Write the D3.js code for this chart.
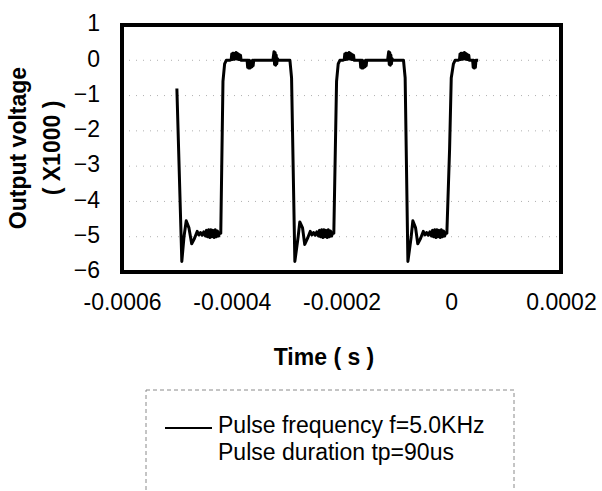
<!DOCTYPE html>
<meta charset="utf-8">
<html>
<head>
	<style>
		body { margin: 0; background: #fff; }
		svg text { font-family: "Liberation Sans", Arial, sans-serif; fill: #000; }
	</style>
	<script src="https://d3js.org/d3.v7.min.js"></script>
</head>
<body>
<div id="plot"></div>
<script>
	// -----Data (time in microseconds, voltage in X1000 V), one line per segment-----
	const time_us = [
		// cycle 1
		-500, -491, -487, -483, -478, -473, -468, -463,
		-460, -457, -454, -451, -448, -446, -444, -442, -440, -438, -436, -434, -432, -430, -428, -426, -424, -422,
		-420, -416, -413, -410,
		-404, -401, -400, -399, -398, -397, -396, -395, -394, -393, -392, -391, -390, -389, -388, -387, -386, -385, -384, -383, -378,
		-372, -371, -370, -369, -368, -367, -366, -365, -364, -363, -362, -361, -360, -340,
		-325, -323, -322, -321, -320, -319, -318, -317, -315, -294,
		-291, -285,
		// cycle 2
		-279, -276, -271, -267, -262, -257,
		-254, -251, -248, -245, -242, -240, -238, -236, -234, -232, -230, -228, -226, -224, -222, -220, -218, -216,
		-214, -209, -206, -203,
		-198, -195, -194, -193, -192, -191, -190, -189, -188, -187, -186, -185, -184, -183, -182, -181, -180, -179, -178, -177, -172,
		-166, -165, -164, -163, -162, -161, -160, -159, -158, -157, -156, -155, -154, -135,
		-116, -114, -113, -112, -111, -110, -109, -108, -106, -87,
		-84, -79,
		// cycle 3
		-73, -70, -65, -61, -56, -51,
		-48, -45, -42, -39, -36, -34, -32, -30, -28, -26, -24, -22, -20, -18, -16, -14, -12, -10,
		-8, -3, 0, 4, 7,
		12, 15, 16, 17, 18, 19, 20, 21, 22, 23, 24, 25, 26, 27, 28, 29, 30, 31, 32, 33, 37,
		39, 40, 41, 42, 43, 44, 45, 47, 49
	];
	const voltage = [
		// cycle 1
		-0.8, -5.7, -5.0, -4.55, -4.75, -5.2, -5.05, -4.85,
		-4.95, -4.88, -4.96, -4.86, -4.98, -4.82, -5.0, -4.8, -5.02, -4.8, -5.0, -4.82, -5.02, -4.8, -5.0, -4.84, -4.98, -4.88,
		-4.9, -0.6, -0.1, 0.0,
		0.0, 0.02, 0.18, 0.02, 0.2, 0.03, 0.2, 0.03, 0.2, 0.04, 0.22, 0.04, 0.2, 0.03, 0.18, 0.02, 0.16, 0.02, 0.14, 0.0, 0.0,
		0.0, -0.2, 0.0, -0.22, 0.0, -0.22, -0.02, -0.2, -0.02, -0.18, 0.0, -0.15, 0.0, 0.0,
		0.0, 0.24, -0.12, 0.22, -0.14, 0.15, -0.1, 0.05, 0.0, 0.0,
		-0.5, -5.7,
		// cycle 2
		-5.0, -4.58, -4.75, -5.22, -5.05, -4.85,
		-4.95, -4.88, -4.96, -4.86, -4.98, -4.82, -5.0, -4.8, -5.02, -4.8, -5.0, -4.82, -5.02, -4.8, -5.0, -4.84, -4.98, -4.88,
		-4.9, -0.6, -0.1, 0.0,
		0.0, 0.02, 0.18, 0.02, 0.2, 0.03, 0.2, 0.03, 0.2, 0.04, 0.22, 0.04, 0.2, 0.03, 0.18, 0.02, 0.16, 0.02, 0.14, 0.0, 0.0,
		0.0, -0.2, 0.0, -0.22, 0.0, -0.22, -0.02, -0.2, -0.02, -0.18, 0.0, -0.15, 0.0, 0.0,
		0.0, 0.24, -0.12, 0.22, -0.14, 0.15, -0.1, 0.05, 0.0, 0.0,
		-0.5, -5.7,
		// cycle 3
		-5.0, -4.55, -4.75, -5.2, -5.05, -4.85,
		-4.95, -4.88, -4.96, -4.86, -4.98, -4.82, -5.0, -4.8, -5.02, -4.8, -5.0, -4.82, -5.02, -4.8, -5.0, -4.84, -4.98, -4.88,
		-4.9, -2.5, -0.5, -0.1, 0.0,
		0.0, 0.02, 0.18, 0.02, 0.2, 0.03, 0.2, 0.03, 0.2, 0.04, 0.22, 0.04, 0.2, 0.03, 0.18, 0.02, 0.16, 0.02, 0.14, 0.0, 0.0,
		0.0, -0.2, 0.0, -0.22, -0.02, -0.2, 0.0, 0.0, 0.0
	];
	const x_ticks = [-0.0006, -0.0004, -0.0002, 0, 0.0002];
	const y_ticks = [-6, -5, -4, -3, -2, -1, 0, 1];
	const grid_lines = [-5, -4, -3, -2, -1, 0];
	const legend_lines = ["Pulse frequency f=5.0KHz", "Pulse duration tp=90us"];

	const data = time_us.map((t, i) => ({t: t * 1e-6, v: voltage[i]}));

	//		-----Definitions-----
	const W = 602, H = 491;
	const plot = {left: 122, right: 561, top: 25, bottom: 272};

	const svg = d3.select("#plot")
		.append("svg")
			.attr("width", W)
			.attr("height", H);

	const x = d3.scaleLinear()
		.domain([-0.0006, 0.0002])
		.range([plot.left, plot.right]);

	const y = d3.scaleLinear()
		.domain([-6, 1])
		.range([plot.bottom, plot.top]);

	// Grid lines
	svg.append("g")
		.selectAll("line")
		.data(grid_lines)
		.join("line")
			.attr("x1", plot.left)
			.attr("x2", plot.right)
			.attr("y1", d => y(d))
			.attr("y2", d => y(d))
			.attr("stroke", "#b0b0b0")
			.attr("stroke-width", 1)
			.attr("stroke-dasharray", "1,6");

	// Waveform
	const line = d3.line()
		.x(d => x(d.t))
		.y(d => y(d.v));

	svg.append("path")
		.datum(data)
		.attr("d", line)
		.attr("fill", "none")
		.attr("stroke", "#000")
		.attr("stroke-width", 3)
		.attr("stroke-linejoin", "round");

	// Frame
	svg.append("rect")
		.attr("x", plot.left)
		.attr("y", plot.top)
		.attr("width", plot.right - plot.left)
		.attr("height", plot.bottom - plot.top)
		.attr("fill", "none")
		.attr("stroke", "#000")
		.attr("stroke-width", 4);

	// X axis
	const axis_x = svg.append("g")
		.attr("transform", "translate(0," + plot.bottom + ")")
		.call(d3.axisBottom(x)
			.tickValues(x_ticks)
			.tickSize(0)
			.tickPadding(22)
			.tickFormat(d => d === 0 ? "0" : d.toFixed(4)));
	axis_x.select(".domain").remove();
	axis_x.selectAll("text")
		.attr("font-size", 23)
		.style("font-family", "'Liberation Sans', Arial, sans-serif");

	// Y axis
	const axis_y = svg.append("g")
		.attr("transform", "translate(" + plot.left + ",0)")
		.call(d3.axisLeft(y)
			.tickValues(y_ticks)
			.tickSize(0)
			.tickPadding(22)
			.tickFormat(d3.format("d")));
	axis_y.select(".domain").remove();
	axis_y.selectAll("text")
		.attr("font-size", 23)
		.attr("dy", "0.25em")
		.style("font-family", "'Liberation Sans', Arial, sans-serif");

	// Axis labels
	svg.append("text")
		.attr("transform", "translate(26,148) rotate(-90)")
		.attr("text-anchor", "middle")
		.attr("font-size", 23)
		.attr("font-weight", "bold")
		.text("Output voltage");

	svg.append("text")
		.attr("transform", "translate(60,148) rotate(-90)")
		.attr("text-anchor", "middle")
		.attr("font-size", 23)
		.attr("font-weight", "bold")
		.text("( X1000 )");

	svg.append("text")
		.attr("x", 324)
		.attr("y", 365)
		.attr("text-anchor", "middle")
		.attr("font-size", 23)
		.attr("font-weight", "bold")
		.text("Time ( s )");

	// Legend
	svg.append("rect")
		.attr("x", 146)
		.attr("y", 390)
		.attr("width", 368)
		.attr("height", 200)
		.attr("fill", "none")
		.attr("stroke", "#8a8a8a")
		.attr("stroke-width", 1)
		.attr("stroke-dasharray", "4,3");

	svg.append("line")
		.attr("x1", 165)
		.attr("x2", 212)
		.attr("y1", 428)
		.attr("y2", 428)
		.attr("stroke", "#000")
		.attr("stroke-width", 2);

	svg.selectAll(".legend_text")
		.data(legend_lines)
		.join("text")
			.attr("class", "legend_text")
			.attr("x", 218)
			.attr("y", (d, i) => 433 + i * 27)
			.attr("font-size", 23)
			.text(d => d);
</script>
</body>
</html>
